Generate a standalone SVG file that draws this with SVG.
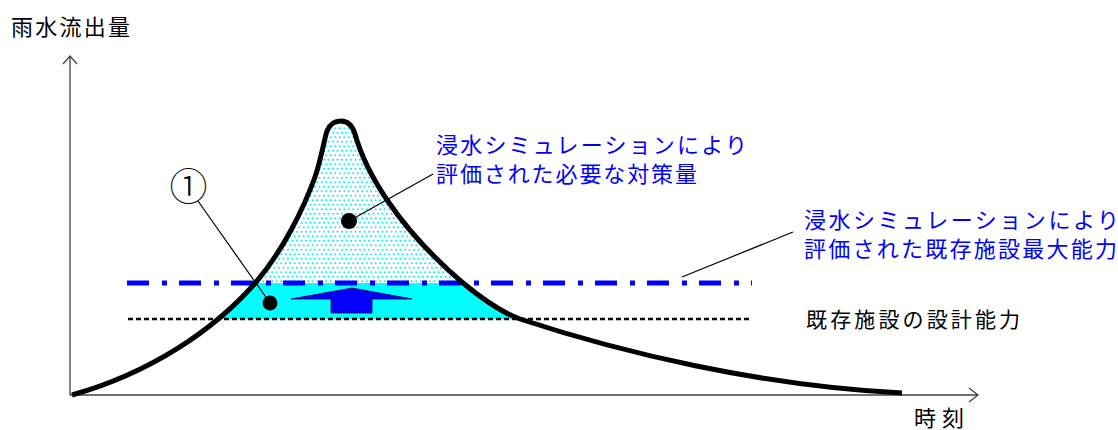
<svg xmlns="http://www.w3.org/2000/svg" width="1118" height="430" viewBox="0 0 1118 430">
<style>
.jp{font-family:"Noto Sans CJK JP","Noto Sans",sans-serif;font-size:22px}
.blue{fill:#0000ff}
.blk{fill:#000}
.axis{stroke:#444;stroke-width:1.3;fill:none}
.lead{stroke:#000;stroke-width:1.2;fill:none}
</style>
<defs>
<pattern id="dots" width="9" height="9" patternUnits="userSpaceOnUse">
<rect width="9" height="9" fill="#fff"/>
<circle cx="2.25" cy="2.25" r="1.05" fill="#1ef"/>
<circle cx="6.75" cy="2.25" r="1.05" fill="#1ef"/>
<circle cx="0" cy="6.75" r="1.05" fill="#1ef"/>
<circle cx="4.5" cy="6.75" r="1.05" fill="#1ef"/>
<circle cx="9" cy="6.75" r="1.05" fill="#1ef"/>
</pattern>
<clipPath id="under">
<path d="M72,395 C150,373 215,330 257,281 C283,250 303,210 315,177 C321,160 324,140 327,131 Q331,121 341,121 Q351,121 355,134 C365,170 395,225 463,283 C480,297 500,312 520,319 C620,352 760,386 902,393 Z"/>
</clipPath>
</defs>
<rect width="1118" height="430" fill="#fff"/>

<g id="regions" clip-path="url(#under)">
<rect id="needed-area" x="0" y="100" width="1118" height="183" fill="url(#dots)"/>
<rect id="capacity-area" x="0" y="283" width="1118" height="36" fill="#00ffff"/>
</g>

<g id="axes">
<path class="axis" d="M70,395 V56 M63,64 L70,56 L77,64"/>
<path class="axis" d="M70,395 H978 M969,388 L978,395 L969,402"/>
</g>

<g id="design-capacity-line">
<line x1="128" y1="319" x2="750" y2="319" stroke="#000" stroke-width="2.5" stroke-dasharray="5 3"/>
</g>
<g id="max-capacity-line">
<line x1="127" y1="283" x2="752" y2="283" stroke="#0000ff" stroke-width="5" stroke-dasharray="22 13 5 12"/>
</g>

<g id="runoff-curve">
<path d="M72,395 C150,373 215,330 257,281 C283,250 303,210 315,177 C321,160 324,140 327,131 Q331,121 341,121 Q351,121 355,134 C365,170 395,225 463,283 C480,297 500,312 520,319 C620,352 760,386 902,393" fill="none" stroke="#000" stroke-width="5" stroke-linejoin="round"/>
</g>

<g id="up-arrow">
<polygon points="291,299 352,288 412,299 372,299 372,313 331,313 331,299" fill="#0000ff" stroke="#000040" stroke-width="0.8"/>
</g>

<g id="connectors">
<line class="lead" x1="349" y1="221" x2="433" y2="174"/>
<line class="lead" x1="198" y1="201" x2="270" y2="303"/>
<line class="lead" x1="682" y1="277" x2="793" y2="232"/>
</g>

<g id="markers">
<circle cx="349" cy="221" r="8" fill="#000"/>
<circle cx="270" cy="303" r="7.5" fill="#000"/>
</g>

<g id="label-y-axis"><text class="jp blk" x="11" y="35" textLength="119">雨水流出量</text></g>
<g id="label-x-axis"><text class="jp blk" x="914" y="426" textLength="50">時刻</text></g>
<g id="label-needed">
<text class="jp blue" x="436" y="153" textLength="311">浸水シミュレーションにより</text>
<text class="jp blue" x="436" y="182" textLength="261">評価された必要な対策量</text>
</g>
<g id="label-max">
<text class="jp blue" x="804" y="228" textLength="315">浸水シミュレーションにより</text>
<text class="jp blue" x="804" y="257" textLength="313">評価された既存施設最大能力</text>
</g>
<g id="label-design"><text class="jp blk" x="806" y="327" textLength="214" style="font-size:21px">既存施設の設計能力</text></g>
<g id="label-1"><text x="188.5" y="200" text-anchor="middle" style="font-family:'Noto Sans CJK JP',sans-serif;font-size:38px;font-weight:300;fill:#000">①</text></g>
</svg>
